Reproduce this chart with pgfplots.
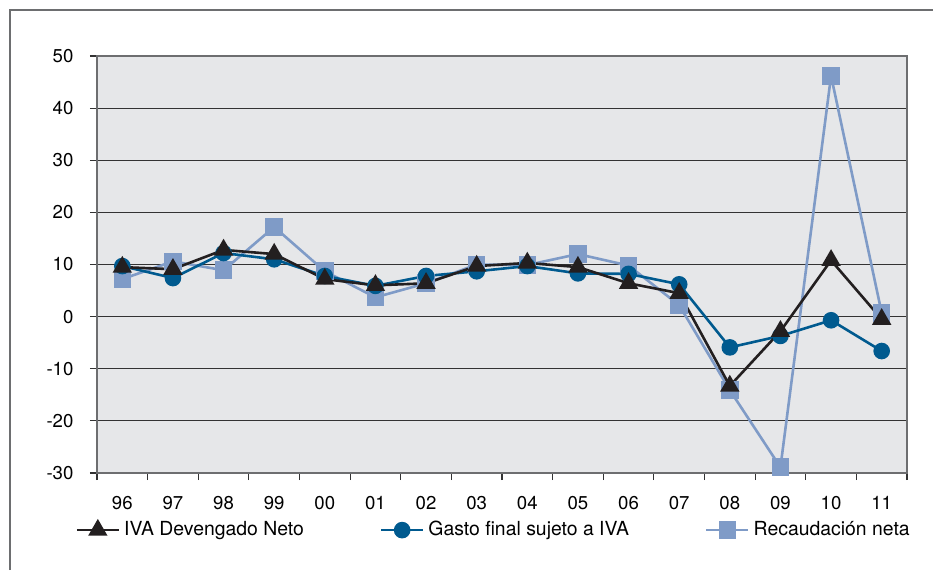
\documentclass[border=0pt]{standalone}
\usepackage{pgfplots}
\pgfplotsset{compat=1.18}
\usepackage{fontspec}
\setmainfont{TeX Gyre Heros}

\definecolor{bgplot}{HTML}{E6E7E9}
\definecolor{gridc}{HTML}{333333}
\definecolor{framec}{HTML}{6D6E70}
\definecolor{ivablk}{HTML}{231F20}
\definecolor{gastob}{HTML}{005A8F}
\definecolor{recaud}{HTML}{7F9BC7}

\begin{document}
\fontsize{9.3}{11}\selectfont
\begin{tikzpicture}
\useasboundingbox (0,0) rectangle (466.5pt,285pt);
% outer frame (top and left only)
\draw[framec, line width=0.8pt] (5pt,0) -- (5pt,280pt) -- (466.5pt,280pt);

\begin{axis}[
    at={(48.5pt,48.5pt)}, anchor=south west,
    scale only axis,
    width=405pt, height=208.5pt,
    xmin=-0.5, xmax=15.5,
    ymin=-30, ymax=50,
    ytick={-30,-20,...,50},
    xtick={0,...,15},
    xticklabels={96,97,98,99,00,01,02,03,04,05,06,07,08,09,10,11},
    minor xtick={-0.5,0.5,...,15.5},
    xtick pos=bottom, ytick pos=left,
    major x tick style={draw=none},
    tick align=outside,
    major tick length=3.5pt,
    minor tick length=3.5pt,
    tick style={gridc, line width=0.6pt},
    ymajorgrids,
    grid style={gridc, line width=0.6pt},
    axis background/.style={fill=bgplot},
    axis line style={framec, line width=0.8pt},
    tick label style={font=\fontsize{9.3}{11}\selectfont, text=black},
    /pgf/number format/assume math mode=true,
    yticklabel style={xshift=-5pt},
    xticklabel style={yshift=-5pt},
    clip=false,
    legend columns=3,
    legend style={
        at={(axis description cs:-0.027,-0.137)}, anchor=west,
        draw=none, fill=none, inner xsep=0pt, inner ysep=0pt,
        font=\fontsize{9.7}{11}\selectfont,
        /tikz/every even column/.append style={column sep=36pt},
    },
    legend cell align=left,
    legend image code/.code={
        \draw[#1, mark=none] (0pt,0pt) -- (21pt,0pt);
        \draw[#1, only marks] plot coordinates {(10.5pt,0pt)};
    },
]
\addlegendimage{ivablk, line width=1.3pt, mark=triangle*, mark size=4.3pt, mark options={solid, fill=ivablk}}
\addlegendimage{gastob, line width=1.3pt, mark=*, mark size=3.5pt, mark options={solid, fill=gastob}}
\addlegendimage{recaud, line width=1.3pt, mark=square*, mark size=3.75pt, mark options={solid, fill=recaud}}

% Recaudación neta
\addplot[forget plot, recaud, line width=1.3pt, mark=square*, mark size=3.75pt, mark options={fill=recaud}]
coordinates {(0,7.2) (1,10.6) (2,8.9) (3,17.2) (4,8.7) (5,3.7) (6,6.4) (7,10.0)
 (8,9.9) (9,12.0) (10,9.8) (11,2.2) (12,-14.1) (13,-28.9) (14,46.2) (15,0.7)};
% Gasto final sujeto a IVA
\addplot[forget plot, gastob, line width=1.3pt, mark=*, mark size=3.5pt, mark options={fill=gastob}]
coordinates {(0,9.7) (1,7.4) (2,12.2) (3,11.0) (4,7.8) (5,5.9) (6,7.8) (7,8.7)
 (8,9.7) (9,8.3) (10,8.2) (11,6.2) (12,-5.9) (13,-3.7) (14,-0.7) (15,-6.6)};
% IVA Devengado Neto
\addplot[forget plot, ivablk, line width=1.3pt, mark=triangle*, mark size=4.3pt, mark options={fill=ivablk}]
coordinates {(0,9.5) (1,9.1) (2,12.8) (3,12.0) (4,7.2) (5,6.0) (6,6.4) (7,9.7)
 (8,10.3) (9,9.5) (10,6.4) (11,4.5) (12,-13.3) (13,-2.8) (14,10.8) (15,-0.5)};

\legend{IVA Devengado Neto, Gasto final sujeto a IVA, Recaudación neta}
\end{axis}
\end{tikzpicture}
\end{document}
